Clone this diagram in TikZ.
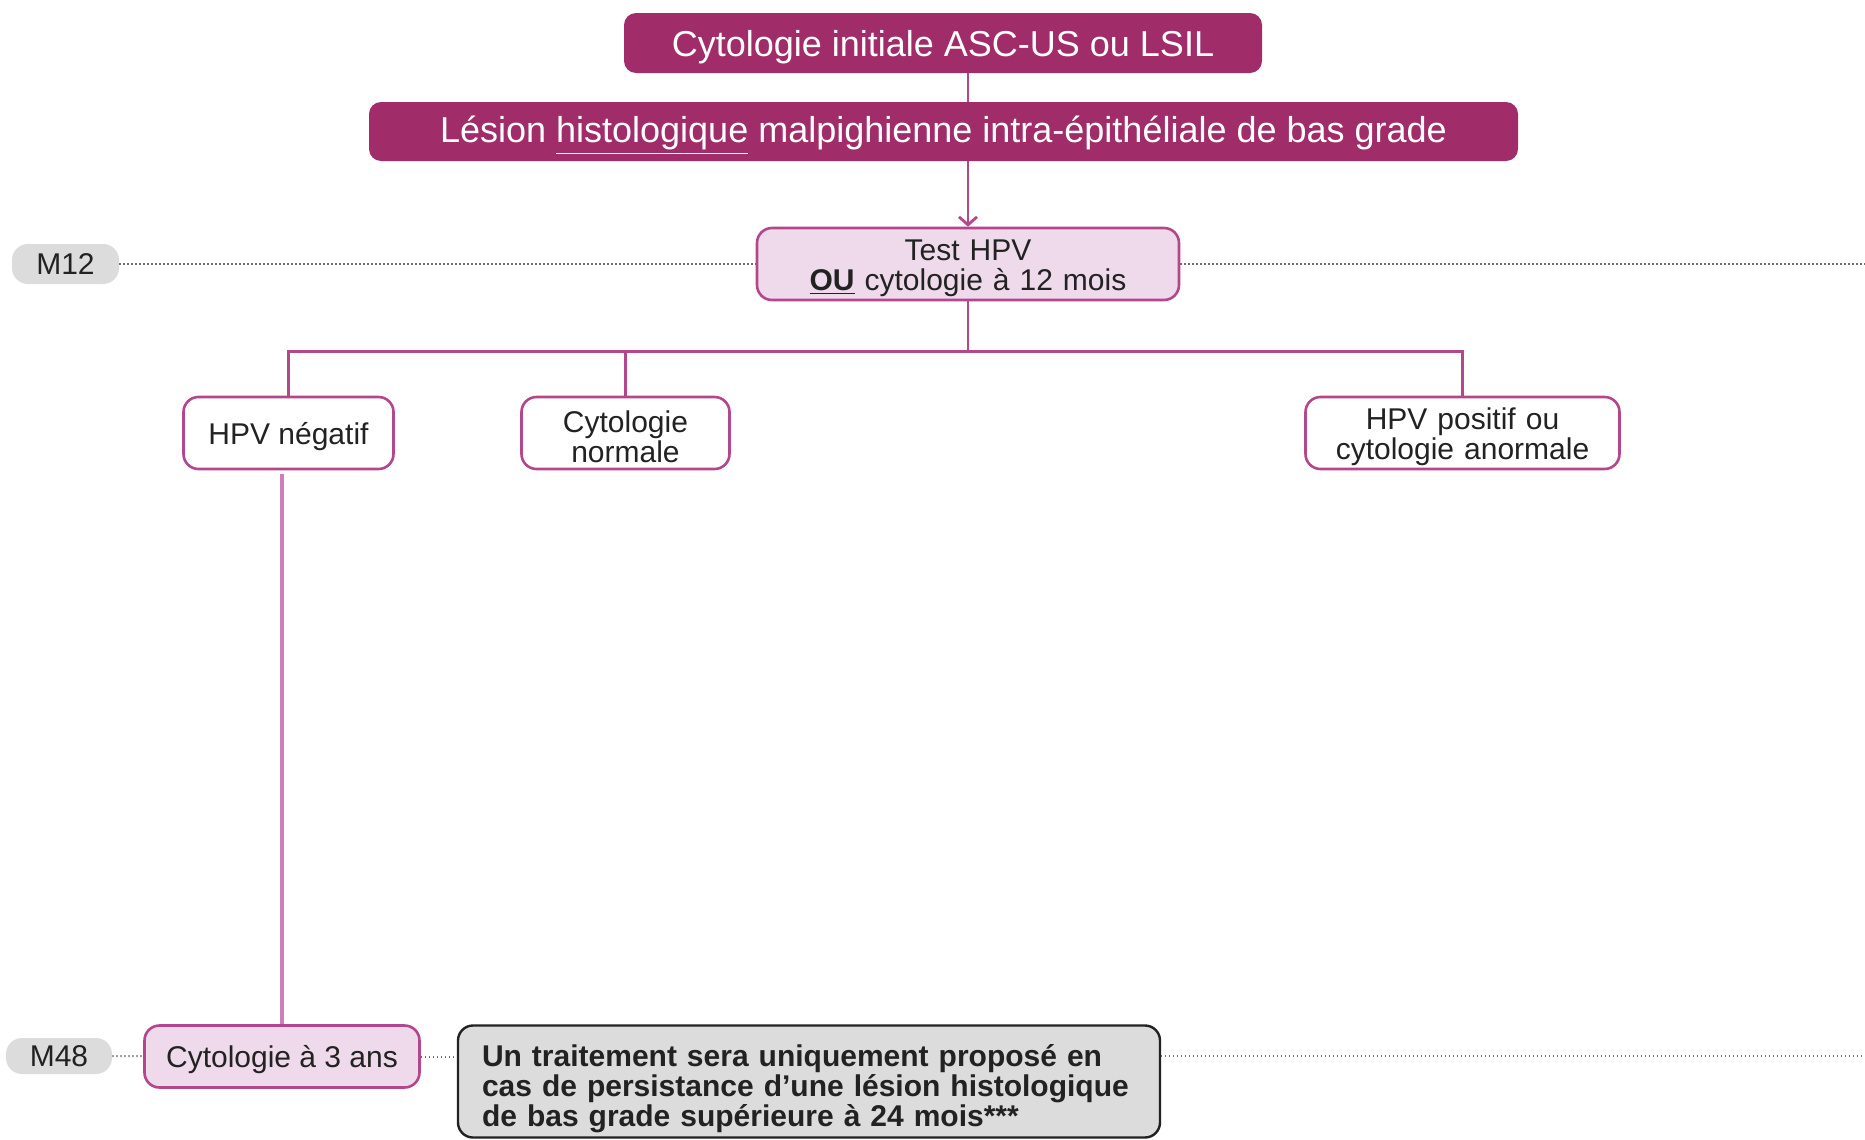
\documentclass[tikz,border=0pt]{standalone}
\usepackage{fontspec}
\setmainfont{Liberation Sans}
\usetikzlibrary{arrows.meta,positioning,calc}

\definecolor{plum}{HTML}{A02D69}
\definecolor{blush}{HTML}{EEDAEA}
\definecolor{plumline}{HTML}{B4468C}
\definecolor{stemline}{HTML}{CC7FB8}
\definecolor{greybox}{HTML}{DCDCDC}
\definecolor{dotgrey}{HTML}{6E6E6E}
\definecolor{ink}{HTML}{222222}

\newcommand{\lift}{\rule{0pt}{0.95em}}

\begin{document}
\begin{tikzpicture}[x=0.5pt,y=-0.5pt]

\tikzset{every node/.style = {font=\fontsize{15}{15}\selectfont, inner sep=0pt, align=center, text=ink}}
\tikzstyle{head}     = [rectangle, rounded corners=6pt, fill=plum, text=white, font=\fontsize{18}{20}\selectfont, minimum height=30pt, execute at begin node=\lift]
\tikzstyle{visit}    = [rectangle, rounded corners=7.5pt, draw=plumline, line width=1.3pt, fill=blush, minimum height=36pt, execute at begin node=\lift]
\tikzstyle{result}   = [rectangle, rounded corners=7.5pt, draw=plumline, line width=1.3pt, fill=white, minimum height=36pt, execute at begin node=\lift]
\tikzstyle{month}    = [rectangle, rounded corners=8pt, fill=greybox]
\tikzstyle{note}     = [rectangle, rounded corners=7.5pt, draw=ink, line width=1.2pt, fill=greybox, align=left, inner xsep=12pt, text width=327pt, minimum height=56pt, font=\fontsize{15}{15}\selectfont\bfseries, execute at begin node={\rule{0pt}{1.2em}}]
\tikzstyle{link}     = [draw=plumline, line width=1.4pt]
\tikzstyle{stem}     = [draw=stemline, line width=2.4pt]
\tikzstyle{timeline} = [draw=dotgrey, line width=1pt, dash pattern=on 0.6pt off 1.4pt]

\useasboundingbox (0,0) rectangle (1865,1140);

% header
\node[head, minimum width=319pt]                      (init)     at (943,43)      {Cytologie initiale ASC-US ou LSIL};
\node[head, minimum width=574.5pt, minimum height=29.5pt] (lesion) at (943.5,131.5) {Lésion \underline{histologique} malpighienne intra-épithéliale de bas grade};

% 12 months
\node[visit, minimum width=211pt, text width=200pt]   (test)     at (968,264)     {Test HPV\\\underline{\textbf{OU}} cytologie à 12 mois};
\node[month, minimum width=53.5pt, minimum height=20pt] (m12)    at (65.5,264)    {M12};
\node[result, minimum width=105pt]                    (hpvneg)   at (288.5,433)   {HPV négatif};
\node[result, minimum width=104pt, text width=95pt]   (cytonorm) at (625.5,433)   {Cytologie\\normale};
\node[result, minimum width=157pt, text width=150pt]  (hpvpos)   at (1462.5,433)  {HPV positif ou\\cytologie anormale};

% 48 months
\node[visit, minimum width=137.5pt, minimum height=31pt] (cyto3) at (282,1056.5)  {Cytologie à 3 ans};
\node[month, minimum width=53pt, minimum height=18pt] (m48)      at (59,1056)     {M48};
\node[note]                                           (note)     at (809,1081.5)  {Un traitement sera uniquement proposé en\\cas de persistance d’une lésion histologique\\de bas grade supérieure à 24 mois***};

\coordinate (fork)   at ($(test.south)+(0,50)$);
\coordinate (edge12) at (1865,264);
\coordinate (edge48) at (1865,1056);

% timelines
\draw[timeline] (m12) -- (test);
\draw[timeline] (test) -- (edge12);
\draw[timeline] (m48) -- (cyto3);
\draw[timeline] (cyto3.east) -- (cyto3.east -| note.west);
\draw[timeline] (note.east |- edge48) -- (edge48);

% connectors
\draw[link] (init.south -| test.north) -- (lesion.north -| test.north);
\draw[link, -{Straight Barb[length=4pt,width=9pt]}] (lesion.south -| test.north) -- (test.north);
\draw[link] (test.south) -- (fork);
\draw[link] (hpvneg.north) |- (hpvpos.north |- fork) -- (hpvpos.north);
\draw[link] (cytonorm.north) -- (cytonorm.north |- fork);
\draw[stem, shorten <=2pt] (cyto3.north |- hpvneg.south) -- (cyto3.north);

\end{tikzpicture}
\end{document}
